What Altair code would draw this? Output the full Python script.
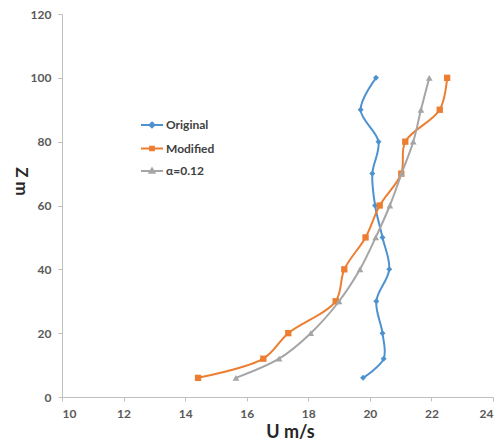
import altair as alt
import pandas as pd

heights = [6, 12, 20, 30, 40, 50, 60, 70, 80, 90, 100]
original = [19.78, 20.45, 20.41, 20.21, 20.63, 20.41, 20.17, 20.08, 20.28, 19.70, 20.20]
modified = [14.42, 16.54, 17.35, 18.89, 19.17, 19.86, 20.32, 21.02, 21.15, 22.27, 22.51]
alpha012 = [15.65, 17.05, 18.08, 19.00, 19.68, 20.19, 20.65, 21.03, 21.41, 21.66, 21.93]
series_names = ["Original", "Modified", "α=0.12"]
series_colors = ["#4E91D0", "#ED7D31", "#A5A5A5"]
marker_shapes = ["diamond", "square", "triangle-up"]
marker_sizes = [36, 40, 45]
legend_shapes = [
    "M-1,0H1M0,-0.22L0.22,0L0,0.22L-0.22,0Z",
    "M-1,0H1M-0.17,-0.17H0.17V0.17H-0.17Z",
    "M-1,0H1M0,-0.22L0.22,0.17H-0.22Z",
]
x_ticks = [10, 12, 14, 16, 18, 20, 22, 24]
y_ticks = [0, 20, 40, 60, 80, 100, 120]

rows = []
for name, vals in zip(series_names, [original, modified, alpha012]):
    for z, u in zip(heights, vals):
        rows.append({"series": name, "U": u, "Z": z})
df = pd.DataFrame(rows)

FONT = "Lato"

x_enc = alt.X("U:Q", scale=alt.Scale(domain=[10, 24], nice=False),
              axis=alt.Axis(values=x_ticks, title="U m/s", grid=False,
                            titleX=228, titleY=35, titleAlign="center", titleBaseline="middle"))
y_enc = alt.Y("Z:Q", scale=alt.Scale(domain=[0, 120], nice=False),
              axis=alt.Axis(values=y_ticks, title="Z m", grid=False, titleAngle=90,
                            titleX=-42, titleY=167, titleAlign="center", titleBaseline="middle"))

base = alt.Chart(df)

layers = []
for name, col, shp, sz in zip(series_names, series_colors, marker_shapes, marker_sizes):
    sub = base.transform_filter(alt.datum.series == name)
    layers.append(
        sub.mark_line(strokeWidth=2, interpolate="catmull-rom", color=col)
        .encode(x=x_enc, y=y_enc, order=alt.Order("Z:Q"))
    )
    layers.append(
        sub.mark_point(filled=True, opacity=1, shape=shp, size=sz, color=col)
        .encode(x=x_enc, y=y_enc)
    )

leg = alt.Legend(title=None, orient="none", legendX=78, legendY=99,
                 symbolSize=484, symbolStrokeWidth=2, symbolOpacity=1,
                 labelFont=FONT, labelFontSize=12, labelFontWeight="bold",
                 labelColor="#404040", rowPadding=4.5, labelOffset=2)

leg_scale = alt.Scale(domain=series_names, range=series_colors)
legend_layer = base.mark_point(filled=True, opacity=0, strokeWidth=2).encode(
    x=x_enc, y=y_enc,
    fill=alt.Fill("series:N", scale=leg_scale, legend=leg),
    stroke=alt.Stroke("series:N", scale=leg_scale, legend=leg),
    shape=alt.Shape("series:N", scale=alt.Scale(domain=series_names, range=legend_shapes), legend=leg),
)

chart = alt.layer(*layers, legend_layer).properties(
    width=431, height=383,
    autosize=alt.AutoSizeParams(type="none"),
    padding={"left": 62, "top": 14, "right": 7, "bottom": 47},
).configure_view(stroke=None).configure_axis(
    domainColor="#BFBFBF", tickColor="#BFBFBF", tickSize=4,
    labelFont=FONT, labelFontSize=12, labelFontWeight="bold", labelColor="#595959",
    titleFont=FONT, titleFontWeight="bold", titleColor="#262626",
).configure_axisX(titleFontSize=18, labelPadding=7).configure_axisY(
    titleFontSize=17, labelPadding=7
)

chart.save("out.html", embed_options={"renderer": "svg", "actions": False})
